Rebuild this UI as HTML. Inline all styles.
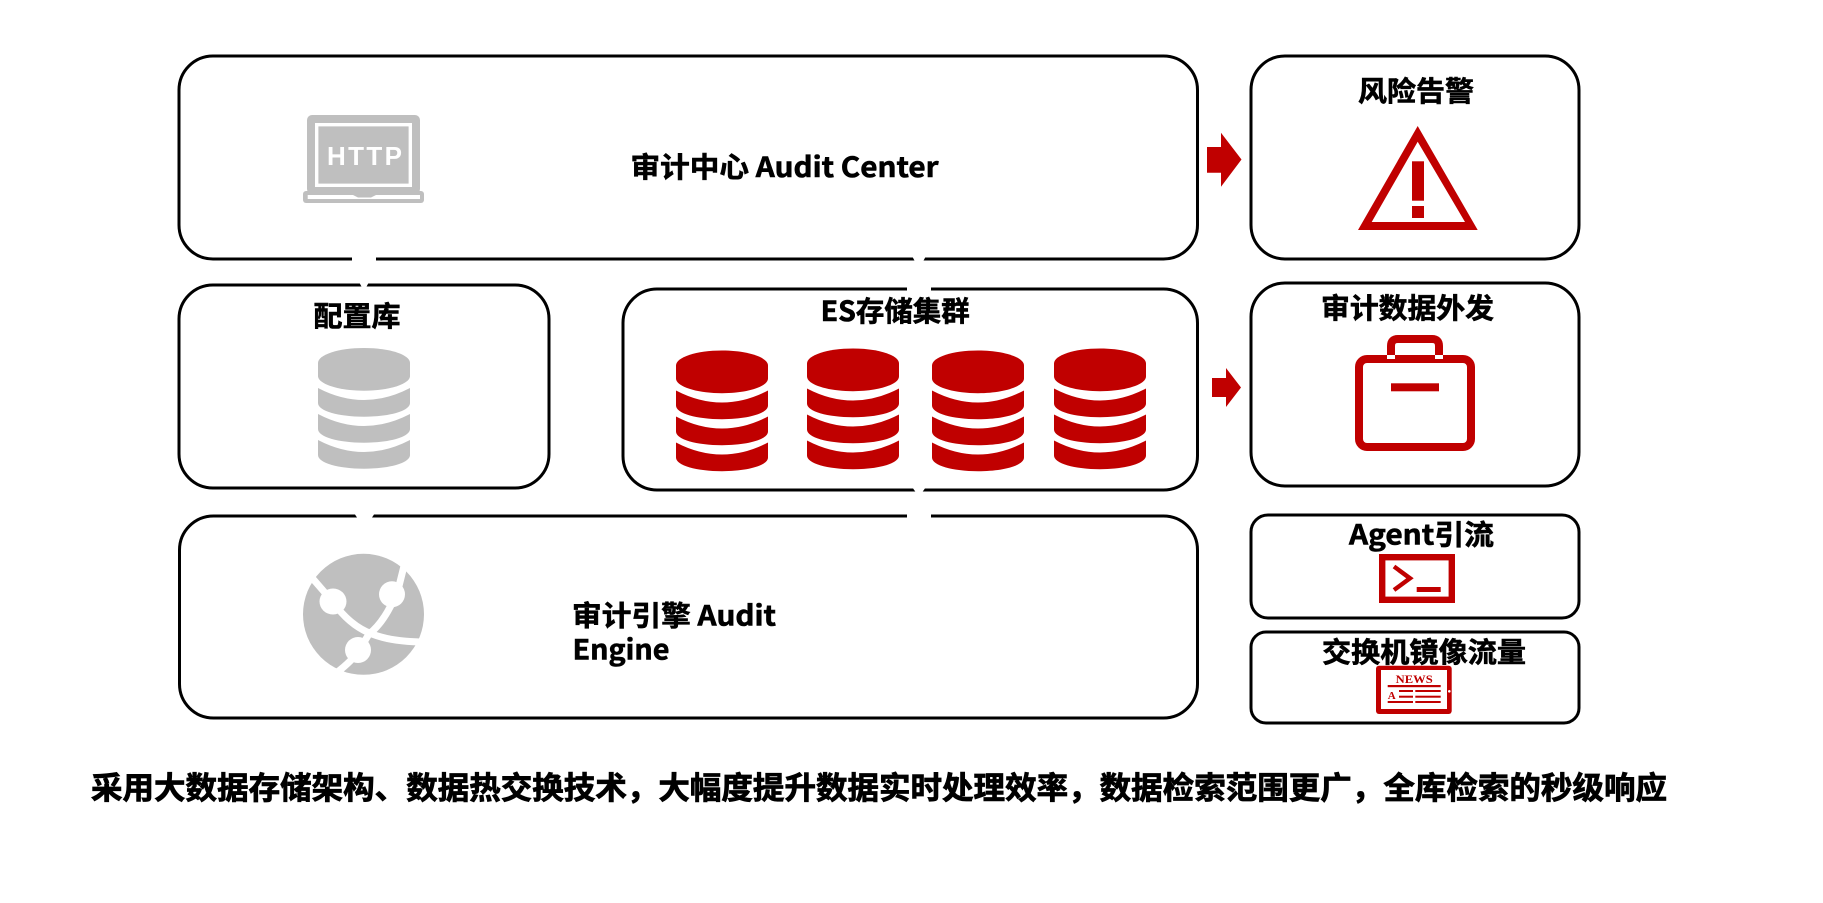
<!DOCTYPE html>
<html lang="zh">
<head>
<meta charset="utf-8">
<title>审计架构</title>
<style>
html,body{margin:0;padding:0;background:#fff;width:1823px;height:903px;overflow:hidden}
svg{display:block}
text{font-family:"Liberation Sans","Noto Sans CJK SC",sans-serif;font-weight:700;fill:#000}
.c{font-family:"Noto Sans CJK SC","Liberation Sans",sans-serif;stroke:#000;stroke-width:.6}
.box{fill:#fff;stroke:#000;stroke-width:3}
</style>
</head>
<body>
<svg width="1823" height="903" viewBox="0 0 1823 903" xmlns="http://www.w3.org/2000/svg">
<defs>
<g id="db">
<path d="M0,15C0,6.7 20.6,0 46,0S92,6.7 92,15V28C92,36 71.4,42.7 46,42.7S0,36 0,28Z"/>
<path d="M0,40Q46,64 92,40V55C92,63 71.4,68.7 46,68.7S0,63 0,55Z"/>
<path d="M0,66Q46,90 92,66V81C92,89 71.4,94.7 46,94.7S0,89 0,81Z"/>
<path d="M0,92Q46,116 92,92V107C92,115 71.4,120.7 46,120.7S0,115 0,107Z"/>
</g>
</defs>

<rect class="box" x="179" y="56" width="1018.5" height="203" rx="34"/>
<rect class="box" x="179" y="285" width="370" height="203" rx="34"/>
<rect class="box" x="623" y="289" width="574.5" height="201" rx="34"/>
<rect class="box" x="179.5" y="516" width="1018" height="202" rx="34"/>
<rect class="box" x="1251" y="56" width="328" height="203" rx="34"/>
<rect class="box" x="1251" y="283" width="328" height="203" rx="34"/>
<rect class="box" x="1251" y="515" width="328" height="103" rx="17"/>
<rect class="box" x="1251" y="632" width="328" height="91" rx="15"/>

<!-- white connectors -->
<g fill="#fff">
<rect x="352" y="254" width="24" height="10"/>
<path d="M359,282L362,287.5H366L369,282Z"/>
<path d="M912,256L915,261.5H923L926,256Z"/>
<rect x="907" y="284" width="24" height="10"/>
<path d="M912,487L916,492.5H922L926,487Z"/>
<rect x="907" y="511" width="24" height="10"/>
<path d="M354,513L358,519H371L375,513Z"/>
</g>

<!-- arrows -->
<g fill="#c00000">
<path d="M1207,147H1221V132.7L1241.5,159.5L1221,186.7V172.7H1207Z"/>
<path d="M1212,378H1226V368L1241,387.5L1226,407V397H1212Z"/>
</g>

<!-- HTTP laptop -->
<g>
<rect x="307" y="115" width="113" height="79" rx="5" fill="#bfbfbf"/>
<rect x="316.7" y="124.7" width="93.6" height="60.6" fill="#bfbfbf" stroke="#fff" stroke-width="3.4"/>
<rect x="303" y="191" width="121" height="12" rx="3" fill="#bfbfbf"/>
<rect x="307.7" y="195" width="112.3" height="4" fill="#fff"/>
<path d="M353,195H376L371,197.5H358Z" fill="#bfbfbf"/>
<text x="327" y="165" font-size="26" textLength="75" lengthAdjust="spacing" style="fill:#fff">HTTP</text>
</g>

<!-- gray db -->
<use href="#db" x="318" y="348" fill="#bfbfbf"/>
<!-- red dbs -->
<use href="#db" x="676" y="350.5" fill="#c00000"/>
<use href="#db" x="807" y="348.5" fill="#c00000"/>
<use href="#db" x="932" y="350.5" fill="#c00000"/>
<use href="#db" x="1054" y="348.5" fill="#c00000"/>

<!-- globe -->
<circle cx="363.5" cy="614.3" r="60.5" fill="#bfbfbf"/>
<g fill="none" stroke="#fff" stroke-width="7">
<path d="M307,572L333,602Q350,626 372,634Q392,642 426,642"/>
<path d="M405,562L398,590Q385,622 369,634L358,652Q349,664 332,676"/>
</g>
<g fill="#fff">
<ellipse cx="333" cy="601.5" rx="13.5" ry="13"/>
<ellipse cx="392" cy="594.3" rx="13" ry="13"/>
<ellipse cx="358" cy="650" rx="13" ry="13"/>
</g>

<!-- warning -->
<path fill-rule="evenodd" fill="#c00000" d="M1417.7,126L1477.7,230H1358ZM1417.7,141.7L1371.7,222H1465Z"/>
<rect x="1412" y="161.3" width="12" height="39.4" fill="#c00000"/>
<rect x="1412" y="206" width="12" height="12" fill="#c00000"/>

<!-- briefcase -->
<g fill="none" stroke="#c00000" stroke-width="8">
<rect x="1359" y="359" width="112" height="88" rx="8"/>
<path d="M1391,359V346Q1391,339 1398,339H1432Q1439,339 1439,346V359"/>
</g>
<rect x="1387" y="355" width="8" height="4" fill="#fff"/>
<rect x="1435" y="355" width="8" height="4" fill="#fff"/>
<rect x="1391" y="383.3" width="48" height="8" fill="#c00000"/>

<!-- terminal -->
<rect x="1382.2" y="557.2" width="69.6" height="42.6" fill="#fff" stroke="#c00000" stroke-width="6.4"/>
<path d="M1394,566.5L1410,578.3L1394,590" fill="none" stroke="#c00000" stroke-width="4.4"/>
<rect x="1416.7" y="587" width="24" height="5" fill="#c00000"/>

<!-- news -->
<rect x="1376" y="665.7" width="75.7" height="48.3" rx="3" fill="#c00000"/>
<rect x="1381" y="670" width="66" height="39" fill="#fff"/>
<text x="1395.7" y="683" font-size="12" textLength="37" lengthAdjust="spacingAndGlyphs" style="font-family:'Liberation Serif',serif;fill:#c00000">NEWS</text>
<text x="1387.7" y="699" font-size="11" style="font-family:'Liberation Serif',serif;fill:#c00000">A</text>
<g fill="#c00000">
<rect x="1387.7" y="685" width="53" height="2.2"/>
<rect x="1399" y="690" width="14" height="2"/>
<rect x="1415.3" y="690" width="25.4" height="2"/>
<rect x="1399" y="695.7" width="14" height="2"/>
<rect x="1415.3" y="695.7" width="25.4" height="2"/>
<rect x="1387.7" y="701" width="25.3" height="2"/>
<rect x="1415.3" y="701" width="25.4" height="2"/>
</g>
<circle cx="1449.3" cy="691.3" r="1.3" fill="#fff"/>

<!-- labels -->
<text class="c" x="630.5" y="177" font-size="28" textLength="308" lengthAdjust="spacingAndGlyphs">审计中心 Audit Center</text>
<text class="c" x="1358" y="101" font-size="28" textLength="116" lengthAdjust="spacingAndGlyphs">风险告警</text>
<text class="c" x="1321" y="318" font-size="28" textLength="173" lengthAdjust="spacingAndGlyphs">审计数据外发</text>
<text class="c" x="313.5" y="326" font-size="28" textLength="87" lengthAdjust="spacingAndGlyphs">配置库</text>
<text class="c" x="820.7" y="321" font-size="28" textLength="149" lengthAdjust="spacingAndGlyphs">ES存储集群</text>
<text class="c" x="1349" y="544.5" font-size="28" textLength="145" lengthAdjust="spacingAndGlyphs">Agent引流</text>
<text class="c" x="1322" y="662" font-size="28" textLength="204" lengthAdjust="spacingAndGlyphs">交换机镜像流量</text>
<text class="c" x="572" y="625.5" font-size="28" textLength="204" lengthAdjust="spacingAndGlyphs">审计引擎 Audit</text>
<text class="c" x="572.5" y="659.5" font-size="28" textLength="97" lengthAdjust="spacingAndGlyphs">Engine</text>
<text class="c" x="91" y="799" font-size="31" textLength="1576" lengthAdjust="spacingAndGlyphs" style="stroke-width:.8">采用大数据存储架构、数据热交换技术，大幅度提升数据实时处理效率，数据检索范围更广，全库检索的秒级响应</text>
</svg>
</body>
</html>
